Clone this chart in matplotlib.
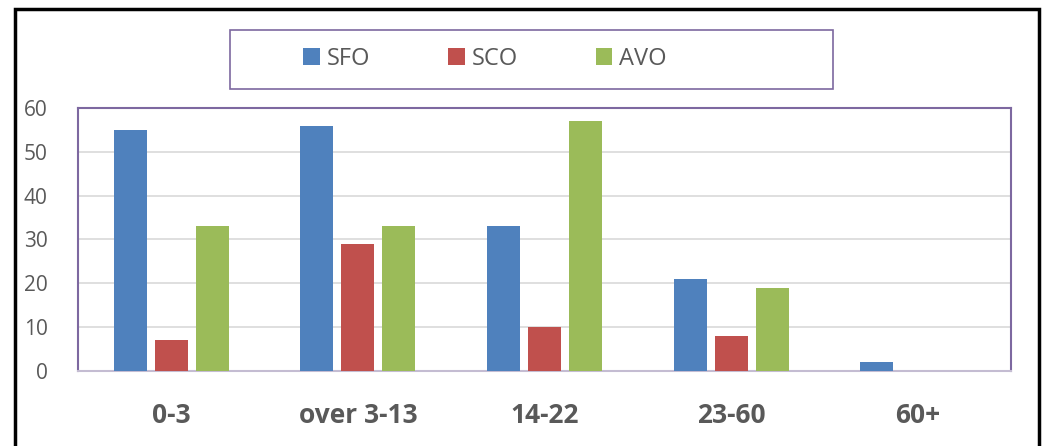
import numpy as np
import matplotlib.pyplot as plt
from matplotlib.patches import Rectangle

categories = ["0-3", "over 3-13", "14-22", "23-60", "60+"]
series = ["SFO", "SCO", "AVO"]
sfo = [55, 56, 33, 21, 2]
sco = [7, 29, 10, 8, 0]
avo = [33, 33, 57, 19, 0]
colors = ["#4F81BD", "#C0504D", "#9BBB59"]

plt.rcParams["font.family"] = ["Open Sans", "DejaVu Sans"]
W, H = 1049, 446
fig = plt.figure(figsize=(W / 100, H / 100), dpi=100)
ax = fig.add_axes([78 / W, 1 - 371 / H, (1011 - 78) / W, (371 - 108) / H])

x = np.arange(len(categories))
width = 0.177
offset = 0.22
bars = []
for i, (vals, name) in enumerate(zip([sfo, sco, avo], series)):
    b = ax.bar(x + (i - 1) * offset, vals, width, color=colors[i], label=name, zorder=3)
    bars.append(b)

ax.set_xlim(-0.5, len(categories) - 0.5)
ax.set_ylim(0, 60)
ax.set_yticks(range(0, 61, 10))
ax.yaxis.grid(True, color="#d9d9d9", linewidth=1.2, zorder=0)
ax.tick_params(axis="y", length=0, labelsize=15, labelcolor="#595959", pad=22)
ax.set_xticks(x)
ax.set_xticklabels(categories, fontsize=19, fontweight="bold", color="#595959")
ax.tick_params(axis="x", length=0, pad=22)

purple = "#7D68A0"
for side in ["top", "right", "left"]:
    ax.spines[side].set_color(purple)
    ax.spines[side].set_linewidth(1.5)
ax.spines["bottom"].set_color("#c4bcd2")
ax.spines["bottom"].set_linewidth(1.5)

# legend box drawn separately so it keeps its fixed width
fig.patches.append(Rectangle((230 / W, 1 - 89 / H), (833 - 230) / W, 59 / H,
                             transform=fig.transFigure, fill=False,
                             edgecolor=purple, linewidth=1.2))
fig.legend(handles=bars, labels=series, loc="center",
           bbox_to_anchor=(485 / W, 1 - 59 / H), ncol=3, frameon=False,
           fontsize=17, handlelength=0.7, handleheight=0.7,
           columnspacing=3.3, handletextpad=0.3, labelcolor="#595959")

# outer frame around the whole chart
fig.patches.append(Rectangle((15 / W, -0.05), (1039 - 15) / W, 1.05 - 9 / H,
                             transform=fig.transFigure, fill=False,
                             edgecolor="black", linewidth=2.5))

fig.savefig("out.png", dpi=100)
